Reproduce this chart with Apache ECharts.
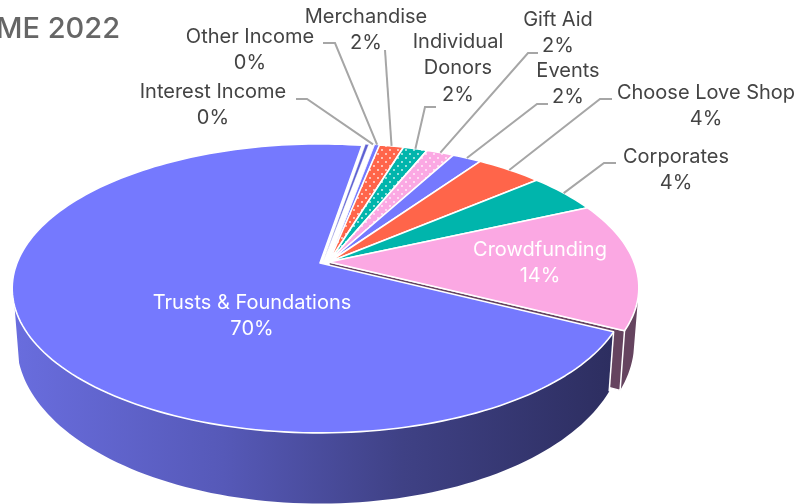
<!DOCTYPE html>
<html>
<head>
<meta charset="utf-8">
<style>html,body{margin:0;padding:0;background:#fff}#c{width:800px;height:504px}</style>
<script src="https://cdn.jsdelivr.net/npm/echarts@6/dist/echarts.min.js"></script>
</head>
<body>
<div id="c"></div>
<script>
const categories = ['Trusts & Foundations','Crowdfunding','Corporates','Choose Love Shop','Events','Gift Aid','Individual Donors','Merchandise','Other Income','Interest Income'];
const shares = [70.2,14.3,4.49,4.1,1.8,1.7,1.5,1.5,0.3,0.2];
const labelLines = [['Trusts & Foundations'],['Crowdfunding'],['Corporates'],['Choose Love Shop'],['Events'],['Gift Aid'],['Individual','Donors'],['Merchandise'],['Other Income'],['Interest Income']];

const topColors = ['#7579FE','#FBA8E3','#00B5AC','#FF654A','#7579FE','#FBA8E3','#00B5AC','#FF654A','#7579FE','#5D60D2'];
const dotted = [false,false,false,false,false,true,true,true,false,false];
const edgeWidths = [1.6,1.6,1.6,1.6,1.6,1.6,1.6,1.6,0.8,0.4];
const labelCentres = [[252,303],[540,250],[676,157],[706,93],[568,71],[558,20],[458,42],[366,17],[250,37],[213,92]];
const labelInside = [true,true,false,false,false,false,false,false,false,false];
const leaders = [null,null,
 [[616,163],[604,163]],
 [[612,99],[600,99]],
 [[548,104],[537,104]],
 [[538,53],[528,53]],
 [[436,107],[425,107]],
 [[385,50]],
 [[323,43],[335,43]],
 [[296,99],[307,99]]];

const startAngle = 80.6, B = 140, P = 0.176;
const widthOf = i => i === 0 ? 303 : 305;
const apex = i => i === 0 ? [320,263] : i === 9 ? [323,262] : [329,262];
const wallX = 0.985, wallY = 1.11, wallDrop = 52;
const wallFromTrusts = 197, wallToCrowdfunding = 346;
const total = shares.reduce((a,b)=>a+b,0);
const spans = []; { let a = startAngle; shares.forEach(v=>{const e=a+v/total*360; spans.push([a,e]); a=e;}); }

function rim(i,deg){
  const t=deg*Math.PI/180,[cx,cy]=apex(i),w=1+P*Math.sin(t);
  return [cx+widthOf(i)*Math.cos(t)/w, cy-B*Math.sin(t)/w];
}
function low(i,p){const [cx,cy]=apex(i);return [cx+wallX*(p[0]-cx), cy+wallDrop+wallY*(p[1]-cy)];}
function arc(i,a,b){const n=Math.max(2,Math.ceil(Math.abs(b-a)/1.5)),o=[];for(let k=0;k<=n;k++)o.push(rim(i,a+(b-a)*k/n));return o;}

function dots(color){
  const c=document.createElement('canvas');c.width=8;c.height=8;const g=c.getContext('2d');
  g.fillStyle=color;g.fillRect(0,0,8,8);g.fillStyle='rgba(255,255,255,0.75)';
  [[2,2],[6,6]].forEach(([x,y])=>{g.beginPath();g.arc(x,y,1.05,0,7);g.fill();});
  return {image:c,repeat:'repeat'};
}
const bigWall={type:'linear',x:14,y:0,x2:612,y2:0,global:true,colorStops:[{offset:0,color:'#696DDE'},{offset:0.35,color:'#5659B8'},{offset:0.65,color:'#3F4185'},{offset:1,color:'#2D2E60'}]};

function renderWall(params,api){
  const i=api.value(0),[a,b]=spans[i],kids=[];
  if(i>1) return {type:'group',children:kids};
  const from=i===0?wallFromTrusts:a, to=i===0?b:wallToCrowdfunding, fill=i===0?bigWall:'#65445F';
  const pts=arc(i,from,to),strip=pts.concat(pts.map(p=>low(i,p)).reverse());
  kids.push({type:'polygon',shape:{points:strip},style:{fill:fill},silent:true});
  const e=i===0?pts[pts.length-1]:pts[0];
  if(i===1){
    const ap=apex(i);
    kids.push({type:'polygon',shape:{points:[ap,e,low(i,e),low(i,ap)]},style:{fill:'#65445F',stroke:'#fff',lineWidth:1.5},silent:true});
  } else {
    kids.push({type:'line',shape:{x1:e[0],y1:e[1],x2:low(i,e)[0],y2:low(i,e)[1]},style:{stroke:'#fff',lineWidth:1.5},silent:true});
  }
  return {type:'group',children:kids};
}
function renderTop(params,api){
  const i=api.value(0),[a,b]=spans[i],pts=[apex(i)].concat(arc(i,a,b));
  return {type:'polygon',shape:{points:pts},silent:true,
    style:{fill:dotted[i]?dots(topColors[i]):topColors[i],stroke:'#fff',lineWidth:edgeWidths[i],lineJoin:'round'}};
}
function renderLabel(params,api){
  const i=api.value(0),[x,y]=labelCentres[i],kids=[];
  const lines=labelLines[i].concat([Math.round(api.value(1))+'%']);
  if(leaders[i]){
    const [a,b]=spans[i],end=rim(1,(a+b)/2);
    kids.push({type:'polyline',shape:{points:leaders[i].concat([end])},style:{fill:'none',stroke:'#A6A6A6',lineWidth:2},silent:true});
  }
  kids.push({type:'text',silent:true,style:{text:lines.join('\n'),x:x,y:y+(lines.length-1)*13.2,align:'center',verticalAlign:'middle',lineHeight:26.5,
    fill:labelInside[i]?'#fff':'#444',font:'400 20px Inter, Lato, sans-serif'}});
  return {type:'group',children:kids};
}
const rows=shares.map((v,i)=>[i,v]);
const chart=echarts.init(document.getElementById('c'),null,{renderer:'canvas'});
chart.setOption({
  animation:false,
  title:{text:'ME 2022',left:-9,top:10,textStyle:{color:'#666',fontSize:29,fontWeight:500,fontFamily:'Inter, Lato, sans-serif'}},
  series:[
    {type:'custom',coordinateSystem:'none',renderItem:renderWall,data:rows.slice().reverse(),z:1,silent:true},
    {type:'custom',coordinateSystem:'none',renderItem:renderTop,data:rows.slice().reverse(),z:2,silent:true},
    {type:'custom',coordinateSystem:'none',renderItem:renderLabel,data:rows,z:3,silent:true}
  ]
});
</script>
</body>
</html>
